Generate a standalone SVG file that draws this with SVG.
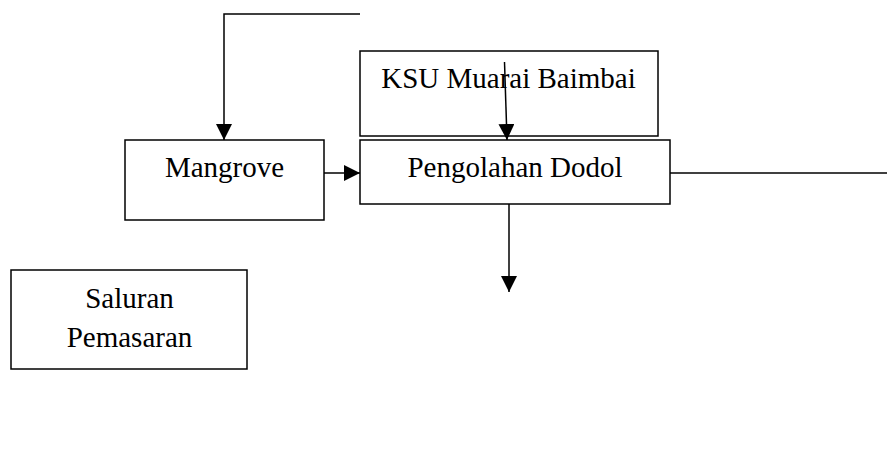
<svg xmlns="http://www.w3.org/2000/svg" width="887" height="455" viewBox="0 0 887 455">
<defs>
<marker id="ah" markerUnits="userSpaceOnUse" markerWidth="16" markerHeight="16" viewBox="0 0 16 16" refX="16" refY="8" orient="auto">
<path d="M0,0 L16,8 L0,16 Z" fill="#000"/>
</marker>
</defs>
<style>
.box{fill:#fff;stroke:#000;stroke-width:1.5}
.ln{fill:none;stroke:#000;stroke-width:1.5}
text{font-family:"Liberation Serif","Times New Roman",serif;font-size:29px;fill:#000;text-anchor:middle}
</style>
<rect width="887" height="455" fill="#fff"/>
<g id="ksu"><rect class="box" x="360" y="51" width="298" height="85"/><text x="508.5" y="88">KSU Muarai Baimbai</text></g>
<g id="mangrove"><rect class="box" x="125" y="140" width="199" height="80"/><text x="224.5" y="177">Mangrove</text></g>
<g id="pengolahan"><rect class="box" x="360" y="140" width="310" height="64"/><text x="515" y="177">Pengolahan Dodol</text></g>
<g id="saluran"><rect class="box" x="11" y="270" width="236" height="99"/><text x="129.5" y="308">Saluran</text><text x="129.5" y="347">Pemasaran</text></g>
<g id="connectors">
<path class="ln" d="M360,14 H224 V140" marker-end="url(#ah)"/>
<path class="ln" d="M504.5,62 L507,140" marker-end="url(#ah)"/>
<path class="ln" d="M324,173 H360" marker-end="url(#ah)"/>
<path class="ln" d="M670,173 H887"/>
<path class="ln" d="M509,204 V292" marker-end="url(#ah)"/>
</g>
</svg>
